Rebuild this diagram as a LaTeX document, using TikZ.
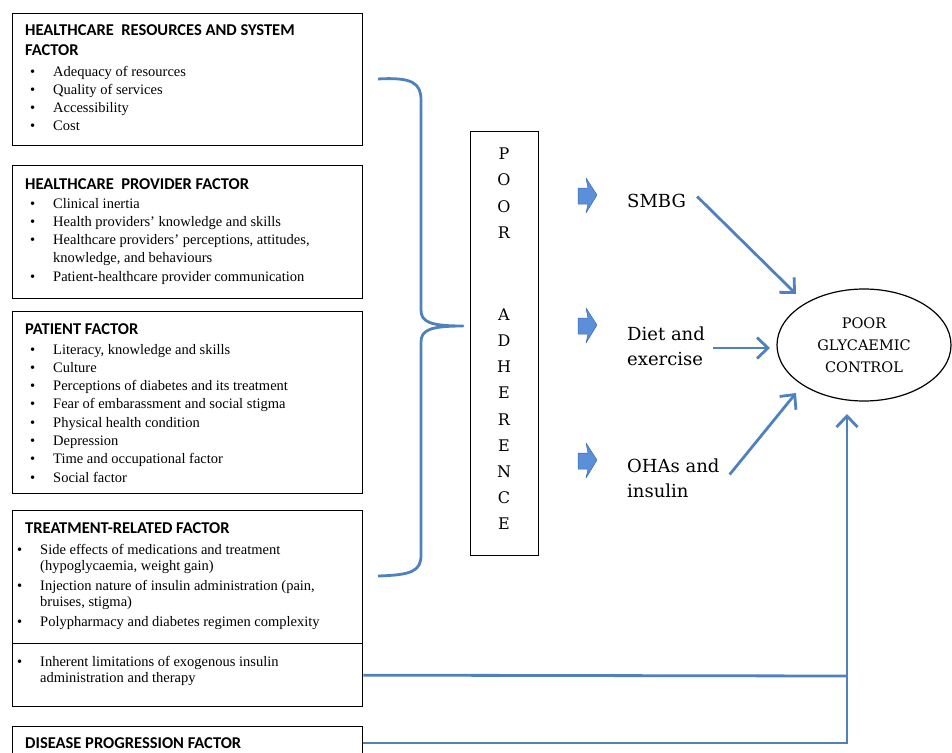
\documentclass[tikz,border=0pt]{standalone}
\usepackage{fontspec}
\setmainfont{Liberation Serif}
\newfontfamily\titlefont{Carlito}
\newfontfamily\cambfont{DejaVu Serif}
\usetikzlibrary{shapes.geometric,arrows.meta}
\definecolor{lineblue}{HTML}{4F81BD}
\definecolor{arrfill}{HTML}{5B8FD8}
\definecolor{arredge}{HTML}{3A6AB0}
\tikzset{
  factorbox/.style={draw=black, line width=1.3pt, anchor=north west, inner sep=0pt, minimum width=350pt},
  boxtitle/.style={anchor=base west, inner sep=0pt, font=\titlefont\bfseries\fontsize{16.5}{20}\selectfont},
  boxtext/.style={anchor=base west, inner sep=0pt, font=\fontsize{14.5}{18.3}\selectfont},
  bluelink/.style={draw=lineblue, line width=2.8pt},
  bluearrow/.style={draw=lineblue, line width=2.8pt, -{Straight Barb[length=11pt,width=21pt,line width=2.8pt]}},
  letter/.style={inner sep=0pt, font=\cambfont\fontsize{16}{16}\selectfont},
  outtext/.style={anchor=base west, inner sep=0pt, font=\cambfont\fontsize{18}{25}\selectfont},
  blockarrow/.style={fill=arrfill, draw=arredge, line width=0.5pt, line join=round},
}
\newcommand{\bul}{\makebox[23pt][l]{\textbullet}}
\newcommand{\bulnar}{\makebox[23pt][l]{\textbullet}}
\newcommand{\lst}[1]{\begin{tabular}[t]{@{}l@{}}#1\end{tabular}}
\begin{document}
\begin{tikzpicture}[x=1pt,y=-1pt]
\useasboundingbox (0,0) rectangle (952,752);
% factor boxes
\node[factorbox, minimum height=132pt] (b1) at (12,13) {};
\node[factorbox, minimum height=133pt] (b2) at (12,165) {};
\node[factorbox, minimum height=182pt] (b3) at (12,311) {};
\node[factorbox, minimum height=133pt] (b4) at (12,510) {};
\node[factorbox, minimum height=63pt] (b4b) at (12,643) {};
\node[factorbox, minimum height=34pt] (b5) at (12,726) {};
% box 1
\node[boxtitle] (t1) at (25,36) {HEALTHCARE\ \ RESOURCES AND SYSTEM};
\node[boxtitle] (t1b) at (25,56) {FACTOR};
\node[boxtext] (l1) at (30,76) {\lst{\bul Adequacy of resources\\ \bul Quality of services\\ \bul Accessibility\\ \bul Cost}};
% box 2
\node[boxtitle] (t2) at (25,189) {HEALTHCARE\ \ PROVIDER FACTOR};
\node[boxtext] (l2) at (30,208) {\lst{\bul Clinical inertia\\ \bul Health providers' knowledge and skills\\ \bul Healthcare providers' perceptions, attitudes,\\ \hspace*{23pt}knowledge, and behaviours\\ \bul Patient-healthcare provider communication}};
% box 3
\node[boxtitle] (t3) at (25,334) {PATIENT FACTOR};
\node[boxtext] (l3) at (30,354) {\lst{\bul Literacy, knowledge and skills\\ \bul Culture\\ \bul Perceptions of diabetes and its treatment\\ \bul Fear of embarassment and social stigma\\ \bul Physical health condition\\ \bul Depression\\ \bul Time and occupational factor\\ \bul Social factor}};
% box 4
\node[boxtitle] (t4) at (25,533) {TREATMENT-RELATED FACTOR};
\node[boxtext, font=\fontsize{14.5}{16}\selectfont] (l4) at (17,554) {\lst{\bulnar Side effects of medications and treatment\\ \hspace*{23pt}(hypoglycaemia, weight gain)\\[4pt] \bulnar Injection nature of insulin administration (pain,\\ \hspace*{23pt}bruises, stigma)\\[4pt] \bulnar Polypharmacy and diabetes regimen complexity}};
\node[boxtext, font=\fontsize{14.5}{16}\selectfont] (l4b) at (17,666) {\lst{\bulnar Inherent limitations of exogenous insulin\\ \hspace*{23pt}administration and therapy}};
% box 5
\node[boxtitle] (t5) at (25,748) {DISEASE PROGRESSION FACTOR};
% brace
\draw[lineblue, line width=2.8pt, line join=round]
  (378,79) .. controls (412,77) and (421,83) .. (421,100)
  -- (421,310)
  .. controls (421,322) and (430,326) .. (463,326)
  .. controls (430,326) and (421,330) .. (421,342)
  -- (421,555)
  .. controls (421,571) and (412,575) .. (378,576);
% poor adherence box
\node[draw=black, line width=1.3pt, anchor=north west, minimum width=68pt, minimum height=424pt, inner sep=0pt] (pa) at (470,131) {};
\foreach \ch/\yy [count=\i] in {P/154,O/180,O/207,R/233,A/315,D/341,H/367,E/393,R/420,E/446,N/472,C/498,E/524}
  \node[letter] (pl\i) at (504,\yy) {\ch};
% block arrows
\foreach \yy/\nm in {196/ba1,326/ba2,461/ba3}{
  \path[blockarrow] (578,\yy-8) -- (588,\yy-8) -- (586,\yy-18) -- (597,\yy-1) -- (586,\yy+17) -- (588,\yy+8) -- (578,\yy+8) -- cycle;
  \coordinate (\nm) at (597,\yy);
}
% outcome texts
\node[outtext] (smbg) at (627,207) {SMBG};
\node[outtext] (diet) at (627,340) {\lst{Diet and\\exercise}};
\node[outtext] (ohas) at (627,472) {\lst{OHAs and\\insulin}};
% ellipse
\node[ellipse, draw=black, line width=1.2pt, minimum width=174pt, minimum height=112pt, inner sep=0pt, align=center, font=\cambfont\fontsize{14.5}{22}\selectfont] (pgc) at (864,345) {POOR\\GLYCAEMIC\\CONTROL};
% arrow targets
\coordinate (e1) at (796,294);
\coordinate (e2) at (770,348);
\coordinate (e3) at (796,393);
\coordinate (e4) at (847,414);
\coordinate (j1) at (847,676);
\coordinate (j2) at (847,743);
\draw[bluearrow] ([shift={(11,-4)}]smbg.east) -- (e1);
\draw[bluearrow] (diet.east |- e2) ++(8,0) -- (e2);
\draw[bluearrow] ([shift={(10,-5)}]ohas.east) -- (e3);
\draw[bluelink] (b4b.east) -- (j1);
\draw[bluelink, line join=miter] (b5.east |- j2) -- (j2) -- (j1);
\draw[bluearrow] (j1) -- (e4);
\end{tikzpicture}
\end{document}
